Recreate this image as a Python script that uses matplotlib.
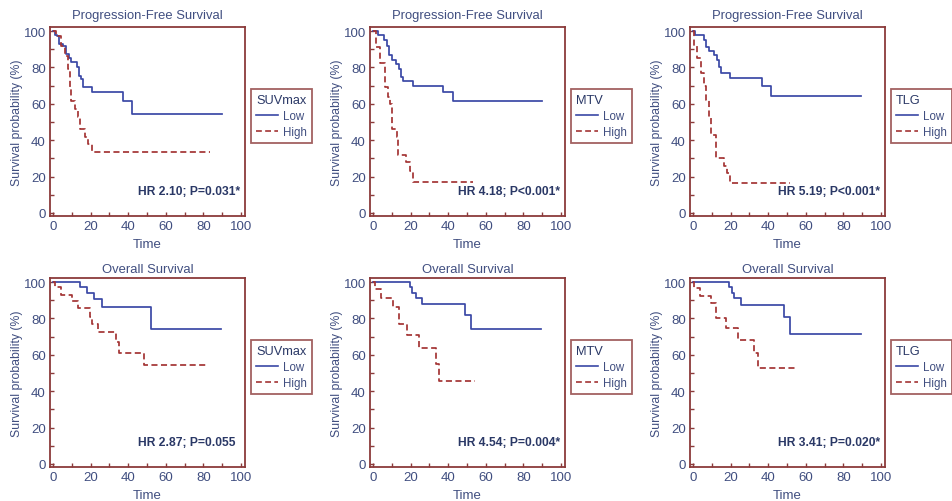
import matplotlib
matplotlib.use('Agg')
import matplotlib.pyplot as plt
from matplotlib.lines import Line2D
from matplotlib.ticker import MultipleLocator

plt.rcParams['font.family'] = ['Liberation Sans', 'DejaVu Sans']

titles = ["Progression-Free Survival"] * 3 + ["Overall Survival"] * 3
groups = ["SUVmax", "MTV", "TLG", "SUVmax", "MTV", "TLG"]
hr_texts = ["HR 2.10; P=0.031*", "HR 4.18; P<0.001*", "HR 5.19; P<0.001*",
            "HR 2.87; P=0.055", "HR 4.54; P=0.004*", "HR 3.41; P=0.020*"]
series_labels = ["Low", "High"]

# Kaplan-Meier step data (time, survival %) -- last point = end of follow-up
pfs_suv_low_t = [0, 1, 2, 3.4, 5.5, 7, 8.7, 9.8, 12.6, 13.6, 14.7, 16, 20.6, 37.4, 42, 90]
pfs_suv_low_s = [100, 98, 97, 93, 91.6, 87.4, 85, 83, 80, 75.5, 73.6, 69.4, 66.3, 61.5, 54.6, 54.6]
pfs_suv_high_t = [0, 1.4, 4.4, 6.6, 8, 8.9, 9.4, 11.6, 13.3, 14.2, 16.9, 18.7, 20.5, 83.3]
pfs_suv_high_s = [100, 97, 92, 86, 79, 68.5, 61.6, 57, 53, 46, 42, 38, 33.4, 33.4]

pfs_mtv_low_t = [0, 2.8, 5.9, 7.3, 8.7, 9.9, 12.2, 14, 15, 16.1, 21.5, 37.4, 42.7, 90]
pfs_mtv_low_s = [100, 98, 95, 92, 87, 84, 82, 79, 75, 72.3, 69.6, 66.3, 61.3, 61.3]
pfs_mtv_high_t = [0, 1.4, 3.6, 6.2, 6.6, 8, 8.9, 10.1, 12.8, 13.3, 17.8, 19.6, 21.4, 53]
pfs_mtv_high_s = [100, 91, 82.6, 78.4, 69, 64, 60, 46, 42, 32, 28, 23, 17.2, 17.2]

pfs_tlg_low_t = [0, 1.2, 5.7, 7.1, 8.4, 11, 12.8, 14, 15.1, 19.9, 36.5, 41.6, 89.3]
pfs_tlg_low_s = [100, 98, 95, 91, 89, 87, 84, 80, 77, 74, 70, 64.5, 64.5]
pfs_tlg_high_t = [0, 0.7, 2.1, 4.4, 5.7, 7, 8.4, 9.6, 12.3, 16.4, 18.1, 19.9, 51.6]
pfs_tlg_high_s = [100, 92, 85, 77, 70, 62, 53, 43, 30, 26, 22, 16.5, 16.5]

os_suv_low_t = [0, 14.2, 18.1, 21.7, 26.2, 52, 89.3]
os_suv_low_s = [100, 97, 94, 90.5, 86.5, 74, 74]
os_suv_high_t = [0, 0.9, 4.4, 10.3, 13.3, 19.6, 21, 24, 33.5, 35.2, 48.6, 81.9]
os_suv_high_s = [100, 97, 93, 89.5, 85.7, 81, 77, 72.3, 67, 61, 54.5, 54.5]

os_mtv_low_t = [0, 19.6, 20.8, 22.6, 26.2, 48.9, 52.1, 89.5]
os_mtv_low_s = [100, 97, 94, 91, 88, 82, 74, 74]
os_mtv_high_t = [0, 1.2, 4.4, 10.7, 13.7, 18.3, 24.4, 33.5, 35.2, 54.3]
os_mtv_high_s = [100, 96, 91, 86, 77, 71, 64, 55, 45.5, 45.5]

os_tlg_low_t = [0, 19, 20.5, 21.7, 25.3, 48.6, 51.6, 89.5]
os_tlg_low_s = [100, 97, 94, 91, 87.5, 80.5, 71.5, 71.5]
os_tlg_high_t = [0, 0.5, 3.6, 9.8, 12.1, 17.8, 23.7, 32.4, 34.7, 54.6]
os_tlg_high_s = [100, 96.5, 92.5, 88.5, 80, 74.5, 68, 61, 53, 53]

curves = [
    ((pfs_suv_low_t, pfs_suv_low_s), (pfs_suv_high_t, pfs_suv_high_s)),
    ((pfs_mtv_low_t, pfs_mtv_low_s), (pfs_mtv_high_t, pfs_mtv_high_s)),
    ((pfs_tlg_low_t, pfs_tlg_low_s), (pfs_tlg_high_t, pfs_tlg_high_s)),
    ((os_suv_low_t, os_suv_low_s), (os_suv_high_t, os_suv_high_s)),
    ((os_mtv_low_t, os_mtv_low_s), (os_mtv_high_t, os_mtv_high_s)),
    ((os_tlg_low_t, os_tlg_low_s), (os_tlg_high_t, os_tlg_high_s)),
]

BLUE = '#3a48a6'
RED = '#a33434'
SPINE = '#8b3a3a'
TXT = '#404e80'
HRC = '#2a3866'
DASH = (0, (3.5, 2))

fig = plt.figure(figsize=(9.52, 5.02), dpi=100)
W, H = 952.0, 502.0
lefts = [50, 370, 690]
tops = [28, 279]
aw, ah = 195, 189

for i in range(6):
    r, c = divmod(i, 3)
    l = lefts[c]
    t = tops[r]
    ax = fig.add_axes([l / W, 1 - (t + ah) / H, aw / W, ah / H])
    (lt, ls), (ht, hs) = curves[i]
    ax.step(lt, ls, where='post', color=BLUE, lw=1.25)
    ax.step(ht, hs, where='post', color=RED, lw=1.25, ls=DASH)
    ax.set_xlim(-1.6, 102.1)
    ax.set_ylim(-1.65, 102.2)
    ax.xaxis.set_major_locator(MultipleLocator(20))
    ax.yaxis.set_major_locator(MultipleLocator(20))
    ax.xaxis.set_minor_locator(MultipleLocator(10))
    ax.yaxis.set_minor_locator(MultipleLocator(10))
    ax.tick_params(which='both', direction='in', length=3, width=1, color=SPINE,
                   labelsize=9.5, labelcolor=TXT, pad=3, top=False, right=False)
    for s in ax.spines.values():
        s.set_color(SPINE)
        s.set_linewidth(1.3)
    ax.set_title(titles[i], fontsize=9.4, color=TXT, pad=6.5 if r == 0 else 4.5)
    ax.set_xlabel("Time", fontsize=9.5, color=TXT, labelpad=4)
    ax.set_ylabel("Survival probability (%)", fontsize=8.8, color=TXT, labelpad=0.5)
    ax.text(45, 12, hr_texts[i], fontsize=8.7, fontweight='bold', color=HRC,
            ha='left', va='center')
    handles = [Line2D([], [], color=BLUE, lw=1.2),
               Line2D([], [], color=RED, lw=1.2, ls=DASH)]
    leg = ax.legend(handles, series_labels, title=groups[i], loc='upper left',
                    bbox_to_anchor=(1.031, 0.672), borderaxespad=0,
                    fontsize=8.3, title_fontsize=9.2, fancybox=False,
                    frameon=True, handlelength=1.9, handletextpad=0.4,
                    labelspacing=0.35, borderpad=0.45, alignment='left')
    leg.get_frame().set_edgecolor(SPINE)
    leg.get_frame().set_linewidth(1.3)
    leg.get_title().set_color(HRC)
    for tx in leg.get_texts():
        tx.set_color(TXT)

fig.savefig('out.png', dpi=100)
